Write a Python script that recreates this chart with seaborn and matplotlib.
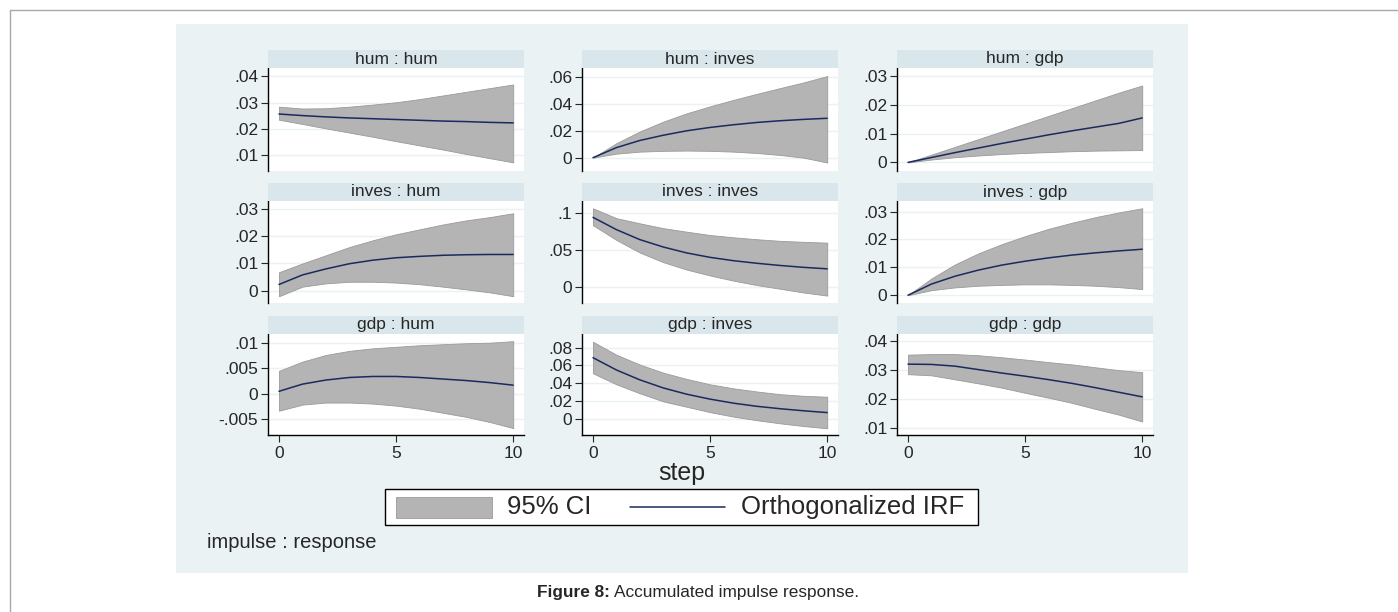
import numpy as np
import pandas as pd
import matplotlib
matplotlib.use("Agg")
import matplotlib.pyplot as plt
import seaborn as sns
from matplotlib.patches import Rectangle
from matplotlib.lines import Line2D

steps = list(range(11))

panel_names = ["hum : hum", "hum : inves", "hum : gdp",
               "inves : hum", "inves : inves", "inves : gdp",
               "gdp : hum", "gdp : inves", "gdp : gdp"]

irf = {
    "hum : hum":     [.0256, .0250, .0245, .0241, .0238, .0235, .0232, .0229, .0227, .0224, .0222],
    "hum : inves":   [0, .0075, .0128, .0167, .0200, .0225, .0245, .0262, .0275, .0285, .0293],
    "hum : gdp":     [0, .0017, .0034, .0050, .0066, .0081, .0096, .0110, .0123, .0136, .0155],
    "inves : hum":   [.0023, .0058, .0080, .0099, .0112, .0121, .0126, .0130, .0132, .0133, .0133],
    "inves : inves": [.0946, .0780, .0645, .0545, .0465, .0405, .0360, .0325, .0295, .0270, .0250],
    "inves : gdp":   [0, .0040, .0068, .0090, .0108, .0122, .0134, .0144, .0152, .0159, .0165],
    "gdp : hum":     [.0005, .0019, .0027, .0032, .0034, .0034, .0032, .0029, .0026, .0022, .0017],
    "gdp : inves":   [.0687, .0550, .0440, .0350, .0280, .0225, .0180, .0145, .0118, .0095, .0075],
    "gdp : gdp":     [.0321, .0320, .0314, .0302, .0290, .0279, .0267, .0254, .0239, .0223, .0207],
}
ci_low = {
    "hum : hum":     [.0234, .0218, .0201, .0185, .0169, .0152, .0136, .0120, .0103, .0087, .0071],
    "hum : inves":   [0, .0030, .0045, .0051, .0053, .0051, .0045, .0035, .0020, .0000, -.0036],
    "hum : gdp":     [0, .0010, .0018, .0024, .0029, .0033, .0036, .0039, .0041, .0042, .0043],
    "inves : hum":   [-.0020, .0015, .0027, .0033, .0033, .0030, .0024, .0015, .0005, -.0006, -.0020],
    "inves : inves": [.0840, .0640, .0470, .0340, .0240, .0160, .0090, .0030, -.0020, -.0070, -.0112],
    "inves : gdp":   [0, .0018, .0028, .0034, .0037, .0039, .0039, .0037, .0034, .0029, .0022],
    "gdp : hum":     [-.0033, -.0021, -.0017, -.0017, -.0019, -.0023, -.0029, -.0037, -.0045, -.0055, -.0067],
    "gdp : inves":   [.0513, .0390, .0290, .0200, .0140, .0080, .0030, -.0010, -.0045, -.0075, -.0100],
    "gdp : gdp":     [.0286, .0282, .0268, .0254, .0239, .0221, .0204, .0186, .0165, .0145, .0121],
}
ci_high = {
    "hum : hum":     [.0284, .0277, .0278, .0284, .0292, .0301, .0313, .0327, .0341, .0355, .0369],
    "hum : inves":   [0, .0108, .0195, .0268, .0330, .0382, .0430, .0475, .0518, .0560, .0607],
    "hum : gdp":     [0, .0027, .0054, .0081, .0108, .0135, .0162, .0189, .0216, .0243, .0268],
    "inves : hum":   [.0068, .0100, .0130, .0160, .0185, .0207, .0225, .0243, .0258, .0270, .0284],
    "inves : inves": [.1068, .0935, .0865, .0800, .0752, .0707, .0676, .0650, .0628, .0615, .0604],
    "inves : gdp":   [0, .0060, .0110, .0150, .0183, .0212, .0238, .0260, .0280, .0297, .0312],
    "gdp : hum":     [.0045, .0063, .0076, .0084, .0089, .0092, .0095, .0097, .0099, .0100, .0103],
    "gdp : inves":   [.0864, .0720, .0610, .0520, .0450, .0390, .0345, .0310, .0280, .0262, .0252],
    "gdp : gdp":     [.0354, .0356, .0356, .0352, .0345, .0337, .0328, .0320, .0310, .0300, .0293],
}

y_ticks = {
    "hum : hum": [.01, .02, .03, .04],
    "hum : inves": [0, .02, .04, .06],
    "hum : gdp": [0, .01, .02, .03],
    "inves : hum": [0, .01, .02, .03],
    "inves : inves": [0, .05, .1],
    "inves : gdp": [0, .01, .02, .03],
    "gdp : hum": [-.005, 0, .005, .01],
    "gdp : inves": [0, .02, .04, .06, .08],
    "gdp : gdp": [.01, .02, .03, .04],
}
y_lims = {
    "hum : hum": (.0038, .0432),
    "hum : inves": (-.0099, .0667),
    "hum : gdp": (-.0030, .0329),
    "inves : hum": (-.0046, .0329),
    "inves : inves": (-.0216, .1167),
    "inves : gdp": (-.0029, .0338),
    "gdp : hum": (-.0081, .0117),
    "gdp : inves": (-.0178, .0951),
    "gdp : gdp": (.0073, .0426),
}

rows = []
for name in panel_names:
    for s, v, lo, hi in zip(steps, irf[name], ci_low[name], ci_high[name]):
        rows.append({"panel": name, "step": s, "irf": v, "lo": lo, "hi": hi})
df = pd.DataFrame(rows)


def stata_fmt(v):
    if abs(v) < 1e-12:
        return "0"
    s = ("%g" % v)
    return s.replace("0.", ".")


sns.set_style("white")
plt.rcParams["font.family"] = ["Liberation Sans", "DejaVu Sans"]

W, H = 1398, 612
fig = plt.figure(figsize=(W / 100, H / 100), dpi=100)
fig.patch.set_facecolor("white")

# outer frame lines
fig.add_artist(Line2D([10 / W, 1], [1 - 10 / H, 1 - 10 / H], color="#a8a8a8", lw=1.0))
fig.add_artist(Line2D([10 / W, 10 / W], [0, 1 - 10 / H], color="#a8a8a8", lw=1.0))

# graph region background
fig.add_artist(Rectangle((176 / W, 1 - 573 / H), (1188 - 176) / W, (573 - 24) / H,
                         transform=fig.transFigure, facecolor="#eaf2f3", edgecolor="none", zorder=0))

band_col = "#b4b4b4"
line_col = "#1a2a5e"
strip_col = "#d9e6eb"
grid_col = "#eaf2f3"
fs = 12.5

col_x = [268, 582, 897]
row_y = [(68, 171), (201, 303.3), (334, 435.3)]
pw = 256
strip_h = 18

for i, name in enumerate(panel_names):
    r, c = divmod(i, 3)
    top, bot = row_y[r]
    ax = fig.add_axes([col_x[c] / W, 1 - bot / H, pw / W, (bot - top) / H])
    sub = df[df["panel"] == name]
    ax.fill_between(sub["step"], sub["lo"], sub["hi"], color=band_col,
                    edgecolor="#9a9a9a", linewidth=0.6, zorder=2)
    sns.lineplot(data=sub, x="step", y="irf", ax=ax, color=line_col, lw=1.1, zorder=3)
    ax.set_xlim(-0.47, 10.46)
    ax.set_ylim(*y_lims[name])
    ax.set_yticks(y_ticks[name])
    ax.set_yticklabels([stata_fmt(t) for t in y_ticks[name]])
    ax.set_facecolor("white")
    ax.yaxis.grid(True, color=grid_col, lw=1.0, zorder=0)
    ax.set_axisbelow(True)
    for sp in ["top", "right"]:
        ax.spines[sp].set_visible(False)
    ax.spines["left"].set_color("black")
    ax.spines["left"].set_linewidth(1.0)
    ax.tick_params(axis="y", left=True, length=5, width=0.8, labelsize=fs, pad=2)
    ax.set_ylabel("")
    ax.set_xlabel("")
    if r == 2:
        ax.set_xticks([0, 5, 10])
        ax.spines["bottom"].set_color("black")
        ax.spines["bottom"].set_linewidth(1.0)
        ax.tick_params(axis="x", bottom=True, length=5, width=0.8, labelsize=fs, pad=3)
    else:
        ax.spines["bottom"].set_visible(False)
        ax.set_xticks([])
    # strip header
    fig.add_artist(Rectangle((col_x[c] / W, 1 - top / H), pw / W, strip_h / H,
                             transform=fig.transFigure, facecolor=strip_col, edgecolor="none"))
    fig.text((col_x[c] + pw / 2) / W, 1 - (top - strip_h / 2) / H, name,
             ha="center", va="center", fontsize=fs)

# x axis title
fig.text(682 / W, 1 - 473 / H, "step", ha="center", va="center", fontsize=18)

# legend box
fig.add_artist(Rectangle((385 / W, 1 - 525 / H), (978 - 385) / W, (525 - 489) / H,
                         transform=fig.transFigure, facecolor="white", edgecolor="black", lw=1.0))
fig.add_artist(Rectangle((396 / W, 1 - 517.5 / H), (492 - 396) / W, (517.5 - 497) / H,
                         transform=fig.transFigure, facecolor=band_col, edgecolor="#9a9a9a", lw=0.6))
fig.text(507 / W, 1 - 507 / H, "95% CI", ha="left", va="center", fontsize=18.5)
fig.add_artist(Line2D([630 / W, 725 / W], [1 - 507 / H, 1 - 507 / H], color=line_col, lw=1.1))
fig.text(741 / W, 1 - 507 / H, "Orthogonalized IRF", ha="left", va="center", fontsize=18.5)

fig.text(207 / W, 1 - 543 / H, "impulse : response", ha="left", va="center", fontsize=14.5)

# caption: bold label then normal text right after it
cap1 = fig.text(537 / W, 1 - 592 / H, "Figure 8:", ha="left", va="center",
                fontsize=12.4, fontweight="bold")
fig.canvas.draw()
bb = cap1.get_window_extent()
fig.text((bb.x1 + 4) / W, 1 - 592 / H, "Accumulated impulse response.", ha="left",
         va="center", fontsize=12.4)

fig.savefig("out.png", dpi=100)
